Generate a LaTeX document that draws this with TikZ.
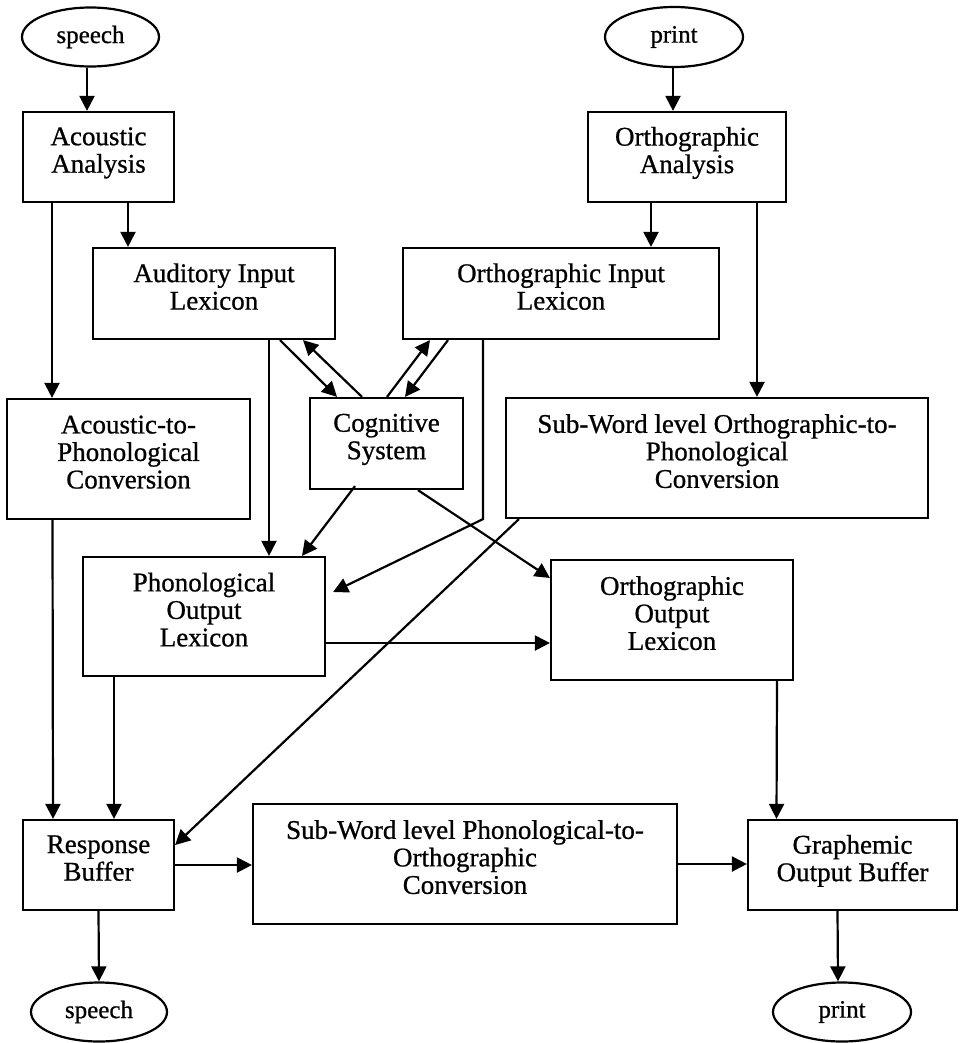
\documentclass[tikz,border=0pt]{standalone}
\usepackage{fontspec}
\setmainfont{Liberation Serif}[FakeBold=0.8]
\usetikzlibrary{arrows.meta,shapes.geometric,calc}
\begin{document}
\begin{tikzpicture}[x=1pt,y=-1pt,
  box/.style={draw, line width=2.2pt, rectangle, inner sep=0pt},
  oval/.style={draw, line width=2.2pt, ellipse, inner sep=0pt, font=\fontsize{25}{27}\selectfont},
  txt/.style={align=center, font=\fontsize{27}{27.5}\selectfont, text depth=0pt, inner sep=0pt},
  arr/.style={line width=2.2pt, -{Triangle[length=15pt,width=15pt]}}]
\useasboundingbox (0,0) rectangle (959,1043);

% ovals
\node[oval, minimum width=137, minimum height=59] (sp1) at (90.5,37) {speech};
\node[oval, minimum width=138, minimum height=60] (pr1) at (674,37) {print};
\node[oval, minimum width=136, minimum height=59] (sp2) at (99,1012) {speech};
\node[oval, minimum width=138, minimum height=59] (pr2) at (842,1012) {print};

% boxes
\node[box, minimum width=151, minimum height=90, label={[txt,yshift=7pt]center:{Acoustic\\Analysis}}] (aa) at (98.5,157) {};
\node[box, minimum width=198, minimum height=90, label={[txt,yshift=7pt]center:{Orthographic\\Analysis}}] (oa) at (687,157) {};
\node[box, minimum width=242, minimum height=91, label={[txt,yshift=7pt]center:{Auditory Input\\Lexicon}}] (ail) at (214,293.5) {};
\node[box, minimum width=316, minimum height=91, label={[txt,yshift=7pt]center:{Orthographic Input\\Lexicon}}] (oil) at (561,293.5) {};
\node[box, minimum width=243, minimum height=120, label={[txt,yshift=7pt]center:{Acoustic-to-\\Phonological\\Conversion}}] (apc) at (128.5,459) {};
\node[box, minimum width=153, minimum height=91, label={[txt,yshift=7pt]center:{Cognitive\\System}}] (cs) at (386.5,443.5) {};
\node[box, minimum width=422, minimum height=120, label={[txt,yshift=7pt]center:{Sub-Word level Orthographic-to-\\Phonological\\Conversion}}] (swop) at (717,458) {};
\node[box, minimum width=242, minimum height=119, label={[txt,yshift=7pt]center:{Phonological\\Output\\Lexicon}}] (pol) at (204,616.5) {};
\node[box, minimum width=242, minimum height=120, label={[txt,yshift=7pt]center:{Orthographic\\Output\\Lexicon}}] (ool) at (672,620) {};
\node[box, minimum width=151, minimum height=90, label={[txt,yshift=7pt]center:{Response\\Buffer}}] (rb) at (98.5,865) {};
\node[box, minimum width=424, minimum height=120, label={[txt,yshift=7pt]center:{Sub-Word level Phonological-to-\\Orthographic\\Conversion}}] (swpo) at (465,864) {};
\node[box, minimum width=209, minimum height=90, label={[txt,yshift=7pt]center:{Graphemic\\Output Buffer}}] (gob) at (852.5,865) {};

% connectors
\draw[arr] ([xshift=-3.5pt]sp1.south) -- ([xshift=-11.5pt]aa.north);
\draw[arr] ([xshift=29.5pt]aa.south) -- ([xshift=-86pt]ail.north);
\draw[arr] ([xshift=-46.5pt]aa.south) -- ([xshift=-76.5pt]apc.north);
\draw[arr] ([xshift=-1pt]pr1.south) -- ([xshift=-14pt]oa.north);
\draw[arr] ([xshift=-36pt]oa.south) -- ([xshift=90pt]oil.north);
\draw[arr] ([xshift=70pt]oa.south) -- ([xshift=40pt]swop.north);
\draw[arr] ([xshift=55pt]ail.south) -- ([xshift=65pt]pol.north);
\draw[arr] ([xshift=66pt]ail.south) -- ([xshift=-49.5pt]cs.north);
\draw[arr] ([xshift=-24.5pt]cs.north) -- ([xshift=89pt]ail.south);
\draw[arr] ([xshift=0.5pt]cs.north) -- ([xshift=-131pt]oil.south);
\draw[arr] ([xshift=-113pt]oil.south) -- ([xshift=18.5pt]cs.north);
\path ([xshift=-78pt]oil.south) coordinate (t1);
\coordinate (c1) at (t1 |- swop.south);
\draw[arr] (t1) -- (c1) -- ([xshift=7pt,yshift=24.5pt]pol.east);
\draw[arr] ([xshift=-31.5pt,yshift=4pt]cs.south) -- ([xshift=98pt]pol.north);
\draw[arr] ([xshift=31.5pt]cs.south) -- ([yshift=42pt]ool.west);
\draw[arr] ([xshift=14pt]swop.south west) -- ([yshift=20pt]rb.east);
\draw[arr] ([xshift=-76pt]apc.south) -- ([xshift=-45.5pt]rb.north);
\draw[arr] ([xshift=-90pt]pol.south) -- ([xshift=15.5pt]rb.north);
\draw[arr] ([yshift=-26.5pt]pol.east) -- ([yshift=-23pt]ool.west);
\draw[arr] ([xshift=105pt]ool.south) -- ([xshift=-76pt]gob.north);
\draw[arr] (rb.east) -- (rb.east -| swpo.west);
\draw[arr] (swpo.east) -- (swpo.east -| gob.west);
\draw[arr] (rb.south) -- (sp2.north);
\draw[arr] ([xshift=-15pt]gob.south) -- ([xshift=-4pt]pr2.north);
\end{tikzpicture}
\end{document}
